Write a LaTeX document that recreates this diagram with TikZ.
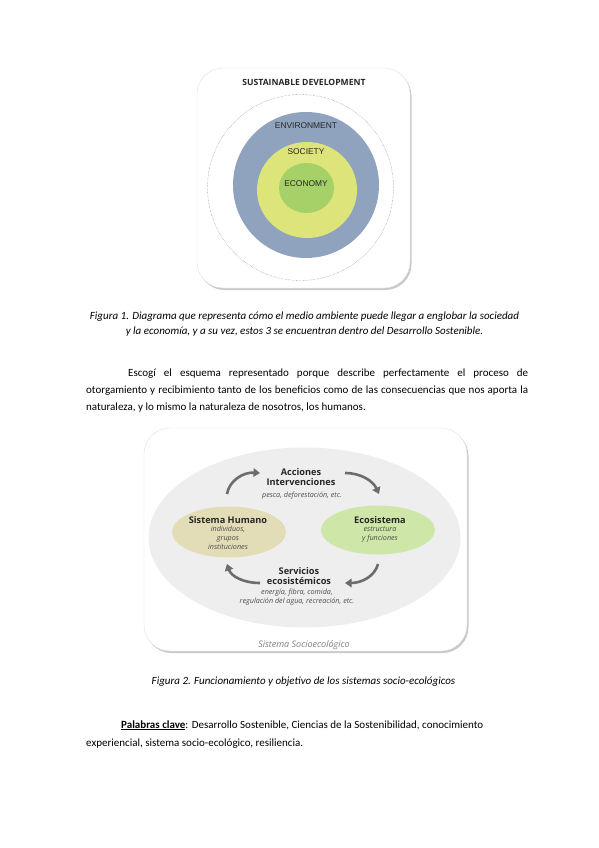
\documentclass[tikz,border=0pt]{standalone}
\usepackage{fontspec}
\setmainfont{Carlito}
\newfontfamily\osans{Open Sans}
\newfontfamily\arialf{Liberation Sans}
\usetikzlibrary{shapes.geometric,shadows,arrows.meta}

\definecolor{envblue}{RGB}{143,163,191}
\definecolor{socyellow}{RGB}{221,229,122}
\definecolor{ecogreen}{RGB}{166,209,104}
\definecolor{humbeige}{RGB}{226,221,182}
\definecolor{ecolight}{RGB}{206,231,168}
\definecolor{sesgray}{RGB}{238,238,238}
\definecolor{arrowgray}{RGB}{108,108,108}

\tikzset{
  bodyline/.style={anchor=base west, font=\fontsize{11}{13}\selectfont},
  captionline/.style={anchor=base, font=\fontsize{11}{13}\selectfont\itshape},
  ringlabel/.style={font=\arialf\fontsize{8.4}{9}\selectfont, text=black!85},
  cardbox/.style={fill=white, draw=black!12, rounded corners=26pt,
    drop shadow={shadow xshift=1.5pt, shadow yshift=-2pt, opacity=.35, fill=black!60}},
  cycletitle/.style={anchor=base, align=center,
    font=\osans\bfseries\fontsize{9.2}{10.5}\selectfont, text=black!85},
  cyclenote/.style={anchor=base, align=center,
    font=\osans\itshape\fontsize{7.2}{9}\selectfont, text=black!70},
  cyclearrow/.style={line width=2.6pt, draw=arrowgray,
    -{Triangle[length=6.5pt,width=8.5pt]}}
}

\begin{document}
\begin{tikzpicture}[x=1pt, y=-1pt, every node/.style={inner sep=0pt}]
  \useasboundingbox (0,0) rectangle (599,848);
  \fill[white] (0,0) rectangle (599,848);

  %%%% Figura 1
  \path[cardbox] (197,68) rectangle (410,288);
  \node[font=\osans\bfseries\fontsize{8.6}{9}\selectfont, text=black!85]
    (sdtitle) at (304,82) {SUSTAINABLE DEVELOPMENT};
  \draw[densely dotted, black!55, line width=.4pt] (300.5,187.5) circle (93pt);
  \fill[envblue] (306,185) circle (73pt);
  \fill[socyellow] (307,190) ellipse [x radius=50pt, y radius=48pt];
  \fill[ecogreen] (306.5,188) ellipse [x radius=27.5pt, y radius=25pt];
  \node[ringlabel] (env) at (306,126) {ENVIRONMENT};
  \node[ringlabel] (soc) at (306,152) {SOCIETY};
  \node[ringlabel] (eco) at (306,184) {ECONOMY};

  \node[captionline] (cap1a) at (304.5,319)
    {Figura 1. Diagrama que representa cómo el medio ambiente puede llegar a englobar la sociedad};
  \node[captionline] (cap1b) at (304.5,334)
    {y la economía, y a su vez, estos 3 se encuentran dentro del Desarrollo Sostenible.};

  %%%% texto
  \node[bodyline] (par1) at (128,376.5) {\makebox[400pt][s]{Escogí el esquema representado porque describe perfectamente el proceso de}};
  \node[bodyline] (par2) at (86,393.5) {\makebox[442pt][s]{otorgamiento y recibimiento tanto de los beneficios como de las consecuencias que nos aporta la}};
  \node[bodyline] (par3) at (86,410.5) {naturaleza, y lo mismo la naturaleza de nosotros, los humanos.};

  %%%% Figura 2
  \path[cardbox] (144,428) rectangle (467,651);
  \fill[sesgray] (304.5,537.5) ellipse [x radius=156pt, y radius=90pt];
  \node[ellipse, fill=humbeige, minimum width=114pt, minimum height=51pt]
    (hum) at (229,532) {};
  \node[ellipse, fill=ecolight, minimum width=114pt, minimum height=49pt]
    (ecos) at (378,530) {};

  \node[cycletitle] (acc) at (301,485.5) {Acciones\\Intervenciones};
  \node[cyclenote] (accnote) at (302,497) {pesca, deforestación, etc.};
  \node[cycletitle] (humtitle) at (228,523) {Sistema Humano};
  \node[cyclenote] (humnote) at (228,549) {individuos,\\grupos\\instituciones};
  \node[cycletitle] (ecotitle) at (380,523) {Ecosistema};
  \node[cyclenote] (econote) at (380,540) {estructura\\y funciones};
  \node[cycletitle] (serv) at (299,584.5) {Servicios\\ecosistémicos};
  \node[cyclenote] (servnote) at (297,603.5) {energía, fibra, comida,\\regulación del agua, recreación, etc.};
  \node[font=\osans\itshape\fontsize{9}{10}\selectfont, text=black!50]
    (socio) at (304,645) {Sistema Socioecológico};

  % flechas del ciclo
  \coordinate (a1) at (227,494);  \coordinate (b1) at (260,473);
  \coordinate (a2) at (345,473);  \coordinate (b2) at (379,494);
  \coordinate (a3) at (378,564);  \coordinate (b3) at (345,583);
  \coordinate (a4) at (260,583);  \coordinate (b4) at (227,564);
  \draw[cyclearrow] (a1) .. controls (229,481) and (243,472) .. (b1);
  \draw[cyclearrow] (a2) .. controls (361,473) and (373,481) .. (b2);
  \draw[cyclearrow] (a3) .. controls (375,576) and (362,583) .. (b3);
  \draw[cyclearrow] (a4) .. controls (243,583) and (231,576) .. (b4);

  \node[captionline] (cap2) at (303.5,684)
    {Figura 2. Funcionamiento y objetivo de los sistemas socio-ecológicos};

  %%%% palabras clave
  \node[bodyline] (kw1) at (121,728) {\underline{\textbf{Palabras clave}}: Desarrollo Sostenible, Ciencias de la Sostenibilidad, conocimiento};
  \node[bodyline] (kw2) at (86,746) {experiencial, sistema socio-ecológico, resiliencia.};
\end{tikzpicture}
\end{document}
